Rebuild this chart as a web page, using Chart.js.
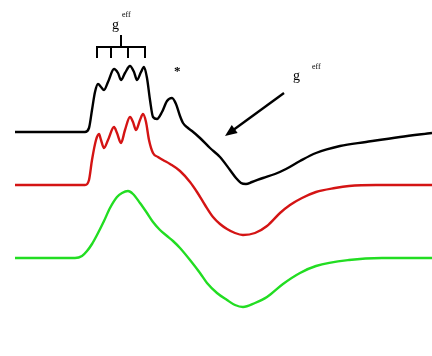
<!DOCTYPE html>
<html>
<head>
<meta charset="utf-8">
<script src="https://cdn.jsdelivr.net/npm/chart.js@4/dist/chart.umd.min.js"></script>
<style>
  html, body { margin: 0; padding: 0; background: #fff; }
  #wrap { width: 432px; height: 356px; }
</style>
</head>
<body>
<div id="wrap"><canvas id="c" width="432" height="356"></canvas></div>
<script>
// Magnetic field positions and derivative signals for three spectra (stacked)
const blackField  = [15, 60, 85, 89, 92, 95, 98, 101, 104, 108, 114, 118, 121, 125, 130, 134, 137, 141, 144, 147, 150, 153, 157, 162, 167, 172, 176, 180, 183, 188, 192, 200, 210, 220, 230, 236, 241, 246, 252, 263, 275, 286, 300, 316, 340, 366, 400, 432];
const blackSignal = [0, 0, 0, 4, 22, 40, 48, 45, 42, 50, 63, 59, 52, 59, 66, 60, 52, 60, 65, 54, 32, 15, 13, 20, 31, 34, 28, 16, 9, 4, 1, -6, -16, -25, -38, -46, -51, -52, -50, -46, -42, -37, -29, -21, -14, -10, -5, -1];

const redField  = [15, 60, 85, 89, 92, 96, 99, 101, 104, 108, 114, 117, 121, 125, 130, 133, 136, 140, 143, 146, 149, 153, 158, 163, 170, 180, 190, 197, 205, 213, 220, 227, 235, 243, 255, 267, 280, 290, 302, 316, 335, 349, 376, 432];
const redSignal = [0, 0, 0, 5, 25, 45, 51, 45, 37, 45, 58, 52, 42, 55, 68, 63, 55, 65, 71, 63, 45, 32, 28, 25, 21, 14, 3, -7, -20, -32, -39, -44, -48, -50, -48, -41, -28, -20, -13, -7, -3, -1, 0, 0];

const greenField  = [15, 60, 75, 82, 87, 92, 97, 104, 110, 117, 122, 128, 133, 140, 147, 153, 160, 167, 173, 180, 190, 200, 207, 217, 227, 235, 243, 255, 267, 283, 300, 316, 349, 382, 432];
const greenSignal = [0, 0, 0, 2, 7, 14, 23, 37, 50, 61, 65, 67, 64, 55, 45, 36, 28, 22, 17, 10, -2, -15, -25, -35, -42, -47, -49, -45, -39, -26, -15, -8, -2, 0, 0];

// Vertical offsets that stack the traces
const traceNames   = ['experimental', 'simulated', 'isotropic'];
const traceOffsets = [224, 171, 98];
const traceColors  = ['#000000', '#d41414', '#22dd22'];

// Annotation anchors in field / signal units
const bracketTicks = [97, 111, 128, 145];
const asteriskAt   = [177, 288];
const arrowFrom    = [284, 263];
const arrowTo      = [225, 220];

const fields  = [blackField, redField, greenField];
const signals = [blackSignal, redSignal, greenSignal];

const datasets = fields.map((f, i) => ({
  label: traceNames[i],
  data: f.map((x, k) => ({ x: x, y: traceOffsets[i] + signals[i][k] })),
  borderColor: traceColors[i],
  borderWidth: 2.4,
  pointRadius: 0,
  showLine: true,
  fill: false,
  cubicInterpolationMode: 'monotone'
}));

const annotations = {
  id: 'annotations',
  afterDatasetsDraw(chart) {
    const ctx = chart.ctx;
    const xs = chart.scales.x, ys = chart.scales.y;
    const X = v => xs.getPixelForValue(v);
    const Y = v => ys.getPixelForValue(v);
    ctx.save();
    ctx.strokeStyle = '#000';
    ctx.fillStyle = '#000';
    ctx.lineWidth = 2;
    ctx.lineCap = 'butt';

    // hyperfine bracket
    const top = Y(309), bottom = Y(298);
    ctx.beginPath();
    ctx.moveTo(X(bracketTicks[0]) - 1, top);
    ctx.lineTo(X(bracketTicks[bracketTicks.length - 1]) + 1, top);
    bracketTicks.forEach(t => { ctx.moveTo(X(t), top); ctx.lineTo(X(t), bottom); });
    const mid = (bracketTicks[0] + bracketTicks[bracketTicks.length - 1]) / 2;
    ctx.moveTo(X(mid), top);
    ctx.lineTo(X(mid), Y(321));
    ctx.stroke();

    // labels
    ctx.textBaseline = 'alphabetic';
    ctx.font = '14px "Liberation Serif", serif';
    ctx.fillText('g', X(112), Y(327));
    ctx.font = '8px "Liberation Serif", serif';
    ctx.fillText('eff', X(122), Y(339));

    ctx.font = 'bold 13px "Liberation Serif", serif';
    ctx.fillText('*', X(asteriskAt[0]) - 3, Y(asteriskAt[1]) + 7);

    ctx.font = '14px "Liberation Serif", serif';
    ctx.fillText('g', X(293), Y(276));
    ctx.font = '8px "Liberation Serif", serif';
    ctx.fillText('eff', X(312), Y(287));

    // arrow
    ctx.lineWidth = 2.4;
    const x1 = X(arrowFrom[0]), y1 = Y(arrowFrom[1]);
    const x2 = X(arrowTo[0]), y2 = Y(arrowTo[1]);
    const ang = Math.atan2(y2 - y1, x2 - x1);
    ctx.beginPath();
    ctx.moveTo(x1, y1);
    ctx.lineTo(x2 - 6 * Math.cos(ang), y2 - 6 * Math.sin(ang));
    ctx.stroke();
    ctx.beginPath();
    ctx.moveTo(x2, y2);
    ctx.lineTo(x2 - 12 * Math.cos(ang) + 5 * Math.sin(ang), y2 - 12 * Math.sin(ang) - 5 * Math.cos(ang));
    ctx.lineTo(x2 - 12 * Math.cos(ang) - 5 * Math.sin(ang), y2 - 12 * Math.sin(ang) + 5 * Math.cos(ang));
    ctx.closePath();
    ctx.fill();
    ctx.restore();
  }
};

new Chart(document.getElementById('c'), {
  type: 'scatter',
  data: { datasets: datasets },
  options: {
    responsive: false,
    animation: false,
    layout: { padding: 0 },
    plugins: { legend: { display: false }, tooltip: { enabled: false } },
    scales: {
      x: { type: 'linear', min: 0, max: 432, display: false },
      y: { type: 'linear', min: 0, max: 356, display: false }
    }
  },
  plugins: [annotations]
});
</script>
</body>
</html>
